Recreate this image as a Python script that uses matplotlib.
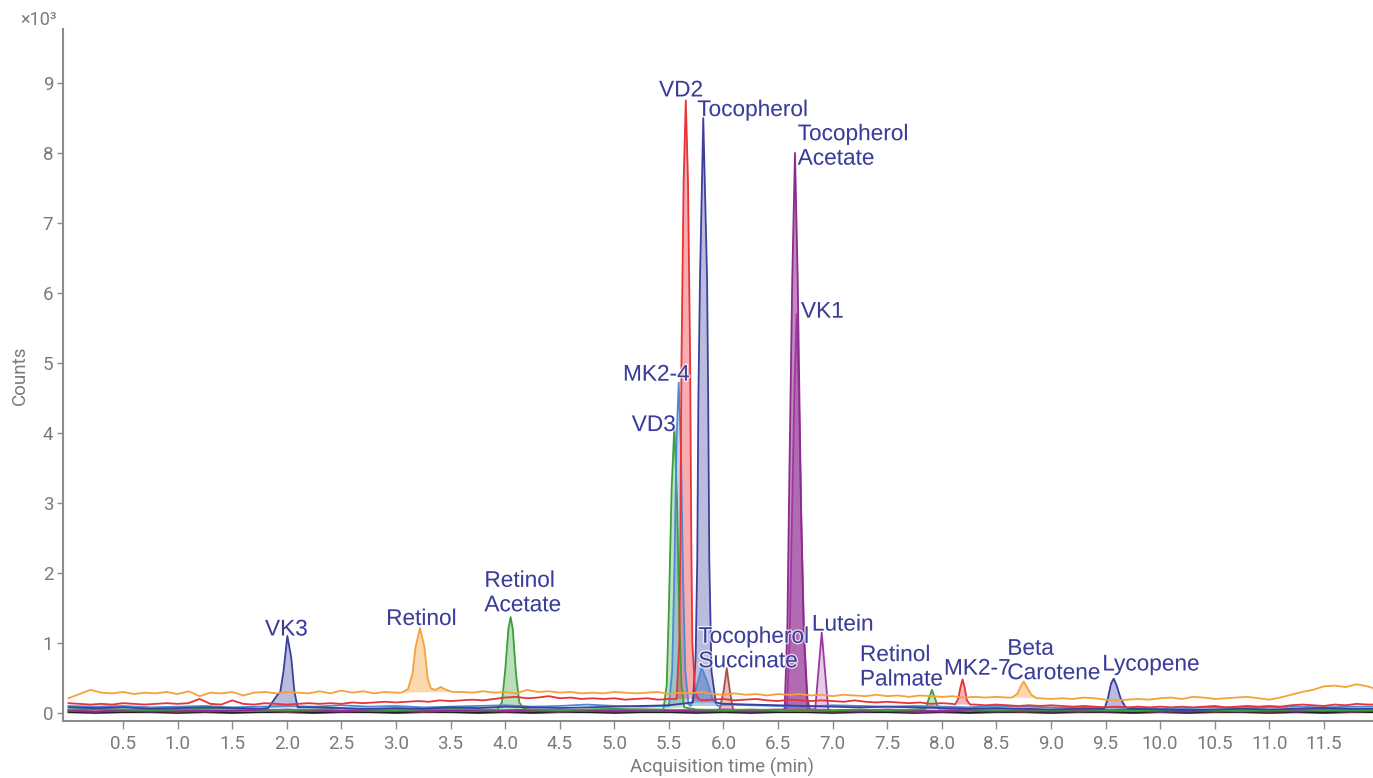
import numpy as np
import matplotlib
matplotlib.use('Agg')
import matplotlib.pyplot as plt
import matplotlib.patheffects as pe

# sampling grids of the baselines (min)
t_fine = np.round(np.arange(0, 12.01, 0.1), 2)
t_coarse = np.round(np.arange(0, 12.01, 0.25), 2)

# baselines, counts x10^3
orange_base = [0.21, 0.27, 0.33, 0.29, 0.28, 0.30, 0.27, 0.29, 0.28, 0.30,
               0.27, 0.31, 0.24, 0.29, 0.28, 0.30, 0.25, 0.29, 0.30, 0.28,
               0.30, 0.29, 0.28, 0.31, 0.28, 0.32, 0.29, 0.31, 0.28, 0.30,
               0.29, 0.29, 0.30, 0.30, 0.30, 0.31, 0.30, 0.29, 0.31, 0.29,
               0.30, 0.28, 0.33, 0.30, 0.31, 0.29, 0.30, 0.28, 0.29, 0.28,
               0.30, 0.29, 0.28, 0.29, 0.30, 0.27, 0.29, 0.28, 0.30, 0.27,
               0.26, 0.28, 0.26, 0.27, 0.25, 0.27, 0.26, 0.27, 0.25, 0.26,
               0.24, 0.26, 0.25, 0.24, 0.26, 0.24, 0.25, 0.23, 0.25, 0.24,
               0.23, 0.24, 0.22, 0.23, 0.22, 0.23, 0.22, 0.22, 0.22, 0.21,
               0.20, 0.21, 0.20, 0.22, 0.21, 0.19, 0.18, 0.19, 0.20, 0.19,
               0.21, 0.22, 0.20, 0.23, 0.22, 0.20, 0.21, 0.22, 0.23, 0.21,
               0.19, 0.22, 0.26, 0.30, 0.33, 0.38, 0.39, 0.37, 0.41, 0.38,
               0.33]
red_base = [0.14, 0.13, 0.12, 0.13, 0.12, 0.14, 0.13, 0.12, 0.13, 0.14,
            0.13, 0.14, 0.20, 0.13, 0.12, 0.18, 0.13, 0.12, 0.14, 0.13,
            0.12, 0.13, 0.14, 0.13, 0.14, 0.13, 0.15, 0.14, 0.15, 0.16,
            0.15, 0.16, 0.17, 0.16, 0.18, 0.17, 0.18, 0.19, 0.18, 0.20,
            0.22, 0.23, 0.21, 0.22, 0.24, 0.21, 0.22, 0.20, 0.21, 0.20,
            0.21, 0.19, 0.20, 0.21, 0.19, 0.20, 0.19, 0.20, 0.18, 0.19,
            0.20, 0.18, 0.19, 0.20, 0.18, 0.17, 0.19, 0.18, 0.17, 0.18,
            0.17, 0.16, 0.18, 0.16, 0.15, 0.16, 0.15, 0.14, 0.15, 0.13,
            0.14, 0.13, 0.12, 0.12, 0.11, 0.12, 0.11, 0.10, 0.11, 0.10,
            0.11, 0.10, 0.09, 0.10, 0.09, 0.08, 0.09, 0.08, 0.09, 0.08,
            0.09, 0.08, 0.09, 0.08, 0.09, 0.10, 0.08, 0.09, 0.10, 0.09,
            0.10, 0.09, 0.11, 0.12, 0.11, 0.10, 0.12, 0.11, 0.13, 0.12,
            0.12]
blue_base = [0.10, 0.09, 0.10, 0.08, 0.09, 0.10, 0.08, 0.09, 0.10, 0.09, 0.11, 0.09,
             0.10, 0.08, 0.09, 0.10, 0.11, 0.09, 0.10, 0.12, 0.10, 0.09, 0.11, 0.10,
             0.12, 0.11, 0.10, 0.09, 0.11, 0.10, 0.09, 0.10, 0.09, 0.08, 0.10, 0.09,
             0.08, 0.07, 0.08, 0.07, 0.06, 0.07, 0.08, 0.07, 0.08, 0.09, 0.08, 0.09,
             0.09]
navy_base = [0.08, 0.07, 0.08, 0.06, 0.07, 0.08, 0.07, 0.06, 0.07, 0.08, 0.07, 0.06,
             0.07, 0.06, 0.08, 0.07, 0.09, 0.08, 0.07, 0.08, 0.09, 0.10, 0.11, 0.12,
             0.13, 0.12, 0.11, 0.10, 0.09, 0.08, 0.09, 0.08, 0.07, 0.06, 0.07, 0.06,
             0.05, 0.06, 0.05, 0.06, 0.05, 0.04, 0.05, 0.06, 0.05, 0.06, 0.07, 0.06,
             0.06]
green_base = [0.05, 0.06, 0.05, 0.04, 0.05, 0.06, 0.07, 0.05, 0.04, 0.05, 0.06, 0.05,
              0.04, 0.05, 0.06, 0.05, 0.06, 0.05, 0.04, 0.05, 0.06, 0.05, 0.06, 0.05,
              0.04, 0.05, 0.04, 0.05, 0.04, 0.05, 0.04, 0.05, 0.06, 0.05, 0.04, 0.05,
              0.04, 0.05, 0.04, 0.03, 0.04, 0.05, 0.04, 0.03, 0.04, 0.05, 0.04, 0.04,
              0.04]
purple_base = [0.03, 0.02, 0.03, 0.02, 0.03, 0.02, 0.03, 0.04, 0.02, 0.03, 0.02, 0.03,
               0.03, 0.02, 0.03, 0.03, 0.02, 0.03, 0.02, 0.03, 0.02, 0.03, 0.03, 0.02,
               0.03, 0.02, 0.03, 0.02, 0.03, 0.02, 0.03, 0.02, 0.02, 0.03, 0.02, 0.03,
               0.02, 0.03, 0.02, 0.03, 0.02, 0.02, 0.03, 0.02, 0.03, 0.02, 0.03, 0.02,
               0.03]
magenta_base = [0.04, 0.05, 0.03, 0.04, 0.05, 0.04, 0.03, 0.04, 0.05, 0.04, 0.03, 0.04,
                0.05, 0.04, 0.04, 0.03, 0.04, 0.05, 0.04, 0.03, 0.04, 0.05, 0.04, 0.04,
                0.05, 0.04, 0.05, 0.04, 0.03, 0.04, 0.05, 0.04, 0.03, 0.04, 0.04, 0.03,
                0.04, 0.03, 0.04, 0.05, 0.04, 0.03, 0.04, 0.04, 0.03, 0.04, 0.05, 0.04,
                0.04]
brown_base = [0.03, 0.02, 0.04, 0.03, 0.02, 0.03, 0.04, 0.03, 0.02, 0.03, 0.03, 0.04,
              0.03, 0.02, 0.03, 0.04, 0.03, 0.03, 0.02, 0.03, 0.04, 0.03, 0.03, 0.04,
              0.05, 0.04, 0.03, 0.03, 0.02, 0.03, 0.03, 0.02, 0.03, 0.04, 0.03, 0.02,
              0.03, 0.02, 0.03, 0.03, 0.02, 0.03, 0.02, 0.03, 0.02, 0.03, 0.03, 0.02,
              0.03]
black_base = [0.01, 0.00, 0.01, 0.01, 0.00, 0.01, 0.00, 0.01, 0.01, 0.00, 0.01, 0.01,
              0.00, 0.01, 0.01, 0.00, 0.01, 0.00, 0.01, 0.01, 0.00, 0.01, 0.01, 0.00,
              0.01, 0.00, 0.01, 0.01, 0.00, 0.01, 0.01, 0.00, 0.01, 0.00, 0.01, 0.01,
              0.00, 0.01, 0.01, 0.00, 0.01, 0.00, 0.01, 0.01, 0.00, 0.01, 0.00, 0.01,
              0.01]

# peaks: (time, counts x10^3) points
retinol = [(3.05, 0.29), (3.11, 0.34), (3.15, 0.55), (3.18, 0.95), (3.22, 1.21), (3.26, 0.95),
           (3.29, 0.50), (3.32, 0.35), (3.36, 0.33), (3.41, 0.37), (3.46, 0.33), (3.52, 0.30)]
beta_carotene = [(8.64, 0.22), (8.69, 0.27), (8.72, 0.37), (8.75, 0.45), (8.78, 0.37),
                 (8.82, 0.26), (8.87, 0.21)]
vd2 = [(5.57, 0.20), (5.595, 1.0), (5.605, 2.5), (5.615, 5.0), (5.635, 7.6), (5.655, 8.75),
       (5.675, 7.6), (5.695, 5.0), (5.705, 2.5), (5.715, 1.0), (5.74, 0.30), (5.77, 0.20)]
mk2_7 = [(8.12, 0.12), (8.15, 0.20), (8.17, 0.36), (8.19, 0.48), (8.21, 0.36),
         (8.23, 0.18), (8.26, 0.12)]
vk3 = [(1.83, 0.07), (1.87, 0.16), (1.91, 0.25), (1.94, 0.30), (1.97, 0.60),
       (2.005, 1.10), (2.04, 0.80), (2.07, 0.30), (2.10, 0.08)]
tocopherol = [(5.72, 0.15), (5.745, 0.8), (5.76, 2.2), (5.77, 4.5), (5.785, 6.2), (5.815, 8.5),
              (5.85, 6.2), (5.86, 4.5), (5.87, 2.2), (5.89, 0.6), (5.93, 0.15)]
lycopene = [(9.49, 0.06), (9.52, 0.20), (9.55, 0.42), (9.575, 0.49), (9.60, 0.40),
            (9.64, 0.20), (9.68, 0.09), (9.72, 0.06)]
retinol_acetate = [(3.93, 0.05), (3.97, 0.15), (4.00, 0.60), (4.03, 1.20), (4.05, 1.37),
                   (4.07, 1.20), (4.10, 0.55), (4.13, 0.15), (4.17, 0.06)]
vd3 = [(5.45, 0.05), (5.48, 0.4), (5.50, 1.5), (5.525, 3.2), (5.55, 4.1), (5.575, 3.0),
       (5.595, 1.4), (5.615, 0.4), (5.64, 0.08)]
retinol_palmate = [(7.85, 0.06), (7.88, 0.20), (7.91, 0.33), (7.94, 0.20), (7.97, 0.06)]
mk2_4 = [(5.50, 0.10), (5.53, 0.6), (5.55, 2.0), (5.57, 3.9), (5.59, 4.72), (5.61, 3.8),
         (5.63, 1.9), (5.65, 0.6), (5.68, 0.12)]
toc_tail = [(5.70, 0.10), (5.75, 0.35), (5.80, 0.65), (5.85, 0.45), (5.90, 0.20), (5.95, 0.10)]
toc_acetate = [(6.56, 0.05), (6.585, 1.2), (6.60, 3.0), (6.63, 6.2), (6.655, 8.0), (6.68, 6.2),
               (6.71, 3.0), (6.735, 1.2), (6.77, 0.2), (6.79, 0.05)]
vk1 = [(6.58, 0.05), (6.605, 1.0), (6.625, 2.6), (6.65, 4.6), (6.67, 5.7), (6.69, 4.6),
       (6.715, 2.6), (6.74, 1.0), (6.77, 0.05)]
lutein = [(6.84, 0.05), (6.87, 0.6), (6.90, 1.15), (6.93, 0.6), (6.96, 0.05)]
toc_succinate = [(5.96, 0.03), (6.00, 0.30), (6.03, 0.64), (6.06, 0.30), (6.09, 0.03)]

labels = ['VK3', 'Retinol', 'Retinol\nAcetate', 'VD3', 'MK2-4', 'VD2', 'Tocopherol',
          'Tocopherol\nAcetate', 'VK1', 'Tocopherol\nSuccinate', 'Lutein',
          'Retinol\nPalmate', 'MK2-7', 'Beta\nCarotene', 'Lycopene']
label_x = [1.80, 2.91, 3.81, 5.16, 5.08, 5.41, 5.76, 6.68, 6.71, 5.77, 6.81, 7.25, 8.02, 8.60, 9.47]
label_y = [1.20, 1.35, 1.72, 4.12, 4.84, 8.90, 8.62, 8.10, 5.74, 0.92, 1.27, 0.66, 0.64, 0.75, 0.70]

# (colour, grid, baseline, [(peak, fill alpha)])
traces = [
    ('#1f1f1f', t_coarse, black_base, []),
    ('#a4524c', t_coarse, brown_base, [(toc_succinate, 0.35)]),
    ('#9d3aa2', t_coarse, magenta_base, [(vk1, 0.35), (lutein, 0.25)]),
    ('#8e2a8e', t_coarse, purple_base, [(toc_acetate, 0.55)]),
    ('#3aa13a', t_coarse, green_base, [(retinol_acetate, 0.35), (vd3, 0.3), (retinol_palmate, 0.3)]),
    ('#4a8bd4', t_coarse, blue_base, [(mk2_4, 0.35), (toc_tail, 0.45)]),
    ('#3d3f9e', t_coarse, navy_base, [(vk3, 0.35), (tocopherol, 0.35), (lycopene, 0.35)]),
    ('#e8333a', t_fine, red_base, [(vd2, 0.4), (mk2_7, 0.35)]),
    ('#f6a23a', t_fine, orange_base, [(retinol, 0.4), (beta_carotene, 0.4)]),
]


def build(t_base, y_base, peaks):
    t = np.asarray(t_base, float)
    y = np.asarray(y_base, float)
    for pk, _ in peaks:
        pt, py = np.array(pk).T
        out = (t < pt[0]) | (t > pt[-1])
        t = np.concatenate([t[out], pt])
        y = np.concatenate([y[out], py])
        order = np.argsort(t, kind='stable')
        t, y = t[order], y[order]
    return t, y


fig = plt.figure(figsize=(13.73, 7.78), dpi=100)
ax = fig.add_axes([0.0459, 0.0737, 0.9541, 0.889])

for col, tg, base, peaks in traces:
    t, y = build(tg, base, peaks)
    ax.plot(t, y, color=col, lw=1.3, zorder=3)
    for pk, a in peaks:
        pt, py = np.array(pk).T
        ax.fill(pt, py, color=col, alpha=a, lw=0, zorder=2)

for lab, lx, ly in zip(labels, label_x, label_y):
    ax.text(lx, ly, lab, ha='left', va='center', fontsize=16.3, color='#3b3d9b',
            family='Liberation Sans', zorder=5, linespacing=1.08,
            path_effects=[pe.withStroke(linewidth=2, foreground='white', alpha=0.7)])

ax.set_xlim(-0.05, 11.95)
ax.set_ylim(-0.11, 9.77)
ax.set_xticks(np.arange(0.5, 11.6, 0.5))
ax.set_xticklabels(['%.1f' % v for v in np.arange(0.5, 11.6, 0.5)])
ax.set_yticks(range(10))

grey = '#7a7a7a'
for s in ['top', 'right']:
    ax.spines[s].set_visible(False)
for s in ['left', 'bottom']:
    ax.spines[s].set_color('#8c8c8c')
    ax.spines[s].set_linewidth(1.5)
ax.tick_params(axis='x', length=6, width=1, color='#8c8c8c', labelsize=13.5, labelcolor=grey, pad=4)
ax.tick_params(axis='y', length=4, width=1, color='#8c8c8c', labelsize=13.5, labelcolor=grey, pad=3)
for lb in ax.get_xticklabels() + ax.get_yticklabels():
    lb.set_family('Roboto')

fig.text(0.0415, 0.974, '×10³', ha='right', va='center', fontsize=13, color=grey, family='Roboto')
fig.text(0.0146, 0.517, 'Counts', ha='center', va='center', rotation=90, fontsize=13.5,
         color=grey, family='Roboto')
fig.text(0.526, 0.014, 'Acquisition time (min)', ha='center', va='center', fontsize=13.5,
         color=grey, family='Roboto')

fig.savefig('out.png', dpi=100)
